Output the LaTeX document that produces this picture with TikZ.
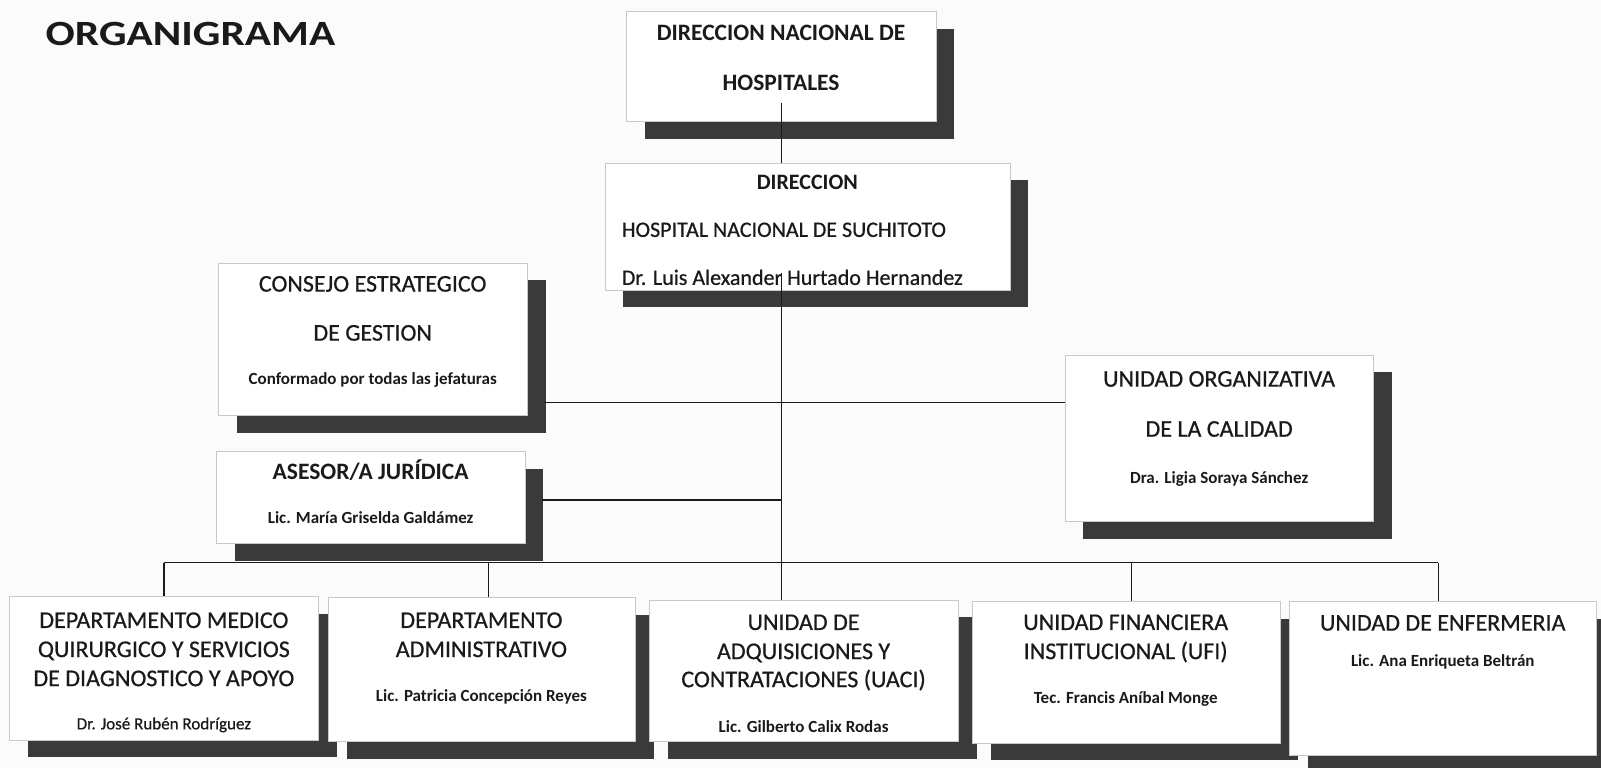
\documentclass[tikz,border=0pt]{standalone}
\usepackage{fontspec}
\setmainfont{Carlito}
\newfontfamily\scanreg{Carlito}[FakeBold=0.6]
\usetikzlibrary{shadows,fit,calc}
\definecolor{paper}{HTML}{FBFBFB}
\definecolor{frame}{HTML}{C8C8C8}
\definecolor{shade}{HTML}{3A3A3A}
\definecolor{ink}{HTML}{1A1A1A}
\begin{document}
\begin{tikzpicture}[x=1.0211pt,y=-1.0211pt,
  obox/.style={draw=frame, line width=0.6pt, fill=white, inner sep=0pt,
    drop shadow={shadow xshift=18.4pt, shadow yshift=-17pt, fill=shade, opacity=1}},
  conn/.style={draw=ink, line width=1.1pt},
  tt/.style={inner sep=0pt, anchor=base, text=ink, font=\scanreg\fontsize{24}{28}\selectfont},
  tb/.style={tt, font=\fontsize{23.5}{28}\selectfont\bfseries},
  tm/.style={tt, font=\scanreg\fontsize{22}{26}\selectfont},
  tmb/.style={tt, font=\fontsize{22}{26}\selectfont\bfseries},
  nm/.style={tt, font=\fontsize{17}{20}\selectfont\bfseries},
  nr/.style={tt, font=\scanreg\fontsize{17}{20}\selectfont},
]
\fill[paper] (0,0) rectangle (1568,752);
\useasboundingbox (0,0) rectangle (1568,752);

% title
\node[tt, anchor=base west, font=\fontsize{35.5}{40}\selectfont\bfseries, xscale=1.22] (title) at (44.5,44.1) {ORGANIGRAMA};

% boxes
\node[obox, fit={(613.7,11.4) (916.7,119.2)}] (top) {};
\node[obox, fit={(592.5,160) (989,284)}] (dir) {};
\node[obox, fit={(214,257.9) (516.5,407)}] (cons) {};
\node[obox, fit={(212,442.3) (514,532.4)}] (ases) {};
\node[obox, fit={(1043,347.7) (1345,510.9)}] (uo) {};
\node[obox, fit={(9,584.3) (312,724.7)}] (med) {};
\node[obox, fit={(321.6,585.3) (622.4,726.3)}] (adm) {};
\node[obox, fit={(636,587.6) (939,726.3)}] (uaci) {};
\node[obox, fit={(952.6,589.2) (1253.6,727.6)}] (ufi) {};
\node[obox, fit={(1262.7,589.2) (1563.7,739.4)}] (enf) {};

% texts
\node[tb] (top1) at (765,39.8) {DIRECCION NACIONAL DE};
\node[tb] (top2) at (765,89) {HOSPITALES};

\node[tmb] (dir1) at (790.7,186) {DIRECCION};
\node[tm, anchor=base west] (dir2) at (608.8,232) {HOSPITAL NACIONAL DE SUCHITOTO};
\node[tm, anchor=base west] (dir3) at (608.8,279) {Dr. Luis Alexander Hurtado Hernandez};

\node[tt] (cons1) at (365,285.6) {CONSEJO ESTRATEGICO};
\node[tt] (cons2) at (365,333.6) {DE GESTION};
\node[nm] (cons3) at (365,377) {Conformado por todas las jefaturas};

\node[tb] (ases1) at (363,470) {ASESOR/A JURÍDICA};
\node[nm] (ases2) at (363,512.5) {Lic. María Griselda Galdámez};

\node[tt] (uo1) at (1194,378.7) {UNIDAD ORGANIZATIVA};
\node[tt] (uo2) at (1194,427.7) {DE LA CALIDAD};
\node[nm] (uo3) at (1194,473.3) {Dra. Ligia Soraya Sánchez};

\node[tt] (med1) at (160.5,615) {DEPARTAMENTO MEDICO};
\node[tt] (med2) at (160.5,643.5) {QUIRURGICO Y SERVICIOS};
\node[tt] (med3) at (160.5,672) {DE DIAGNOSTICO Y APOYO};
\node[nr] (med4) at (160.5,714.3) {Dr. José Rubén Rodríguez};

\node[tt] (adm1) at (471.5,615) {DEPARTAMENTO};
\node[tt] (adm2) at (471.5,643.5) {ADMINISTRATIVO};
\node[nm] (adm3) at (471.5,687) {Lic. Patricia Concepción Reyes};

\node[tt] (uaci1) at (787,617) {UNIDAD DE};
\node[tt] (uaci2) at (787,645.5) {ADQUISICIONES Y};
\node[tt] (uaci3) at (787,673) {CONTRATACIONES (UACI)};
\node[nm] (uaci4) at (787,717) {Lic. Gilberto Calix Rodas};

\node[tt] (ufi1) at (1102.5,617) {UNIDAD FINANCIERA};
\node[tt] (ufi2) at (1102.5,645.5) {INSTITUCIONAL (UFI)};
\node[nm] (ufi3) at (1102.5,689) {Tec. Francis Aníbal Monge};

\node[tt] (enf1) at (1413,617.6) {UNIDAD DE ENFERMERIA};
\node[nm] (enf2) at (1413,653) {Lic. Ana Enriqueta Beltrán};

% connectors
\coordinate (v1s) at (765,101);
\coordinate (v2s) at (765,267);
\coordinate (h1s) at (532.8,394);
\coordinate (h2s) at (531,489.7);
\coordinate (b1) at (160.6,551);
\coordinate (b2) at (478.3,551);
\coordinate (b4) at (1108,551);
\coordinate (b5) at (1408.6,551);

\draw[conn] (v1s) -- (v1s |- dir.north);
\draw[conn] (v2s) -- (v2s |- uaci.north);
\draw[conn] (h1s) -- (h1s -| uo.west);
\draw[conn] (h2s) -- (h2s -| v2s);
\draw[conn] (b1) -- (b5);
\draw[conn] (b1) -- (b1 |- med.north);
\draw[conn] (b2) -- (b2 |- adm.north);
\draw[conn] (b4) -- (b4 |- ufi.north);
\draw[conn] (b5) -- (b5 |- enf.north);
\end{tikzpicture}
\end{document}
